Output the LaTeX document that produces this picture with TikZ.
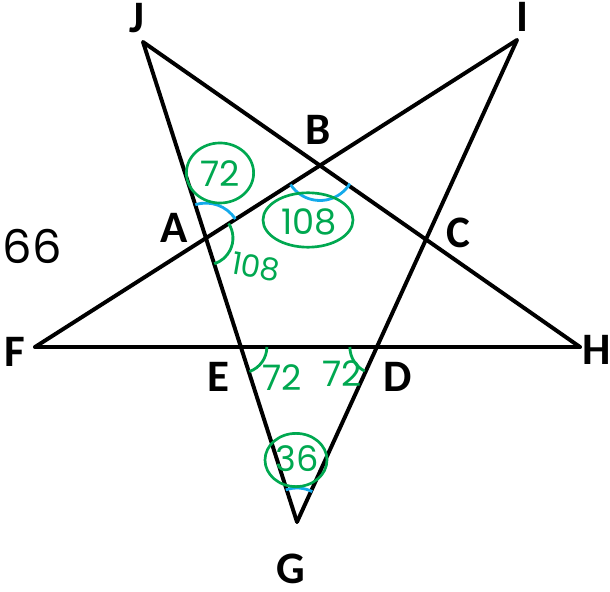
\documentclass[tikz,border=0pt]{standalone}
\usepackage{fontspec}
\setmainfont{Carlito}
\newfontfamily\handfont{Poppins}
\usetikzlibrary{shapes.geometric}
\definecolor{marca}{RGB}{0,168,80}
\definecolor{arco}{RGB}{20,170,235}
\begin{document}
\begin{tikzpicture}[x=0.025cm, y=0.025cm,
  reta/.style={line width=2.8pt, line cap=round},
  rotulo/.style={font=\fontsize{32}{32}\selectfont\bfseries, inner sep=0pt},
  verde/.style={text=marca, font=\handfont\fontsize{25}{25}\selectfont, inner sep=0pt},
  circ/.style={draw=marca, line width=1.9pt, ellipse, inner sep=0pt},
  angb/.style={draw=arco, line width=2pt},
  angv/.style={draw=marca, line width=2pt}]
\useasboundingbox (0,0) rectangle (610,591);
% pontas
\coordinate (J) at (143,549);
\coordinate (I) at (517,551);
\coordinate (F) at (35,244);
\coordinate (H) at (580,244);
\coordinate (G) at (297,69);
% cruzamentos
\coordinate (A) at (intersection of J--G and I--F);
\coordinate (B) at (intersection of J--H and I--F);
\coordinate (C) at (intersection of J--H and I--G);
\coordinate (D) at (intersection of F--H and I--G);
\coordinate (E) at (intersection of F--H and J--G);
% estrela
\draw[reta] (J) -- (G);
\draw[reta] (J) -- (H);
\draw[reta] (I) -- (F);
\draw[reta] (I) -- (G);
\draw[reta] (F) -- (H);
% letras
\node[rotulo] (tJ) at (137,573) {J};
\node[rotulo] (tI) at (522,574) {I};
\node[rotulo] (tB) at (318,461) {B};
\node[rotulo] (tA) at (174,363) {A};
\node[rotulo] (tC) at (458,358) {C};
\node[rotulo] (tF) at (15,239) {F};
\node[rotulo] (tH) at (597,241) {H};
\node[rotulo] (tE) at (218,214) {E};
\node[rotulo] (tD) at (398,214) {D};
\node[rotulo] (tG) at (291,22) {G};
\node[font=\handfont\fontsize{33}{33}\selectfont, inner sep=0pt] (n66) at (32,345) {66};
% arcos
\draw[angb] (A) ++(32.9:35) arc[start angle=32.9, end angle=107.7, radius=35];
\draw[angv] (A) ++(32.9:27) arc[start angle=32.9, end angle=-72.2, radius=27];
\draw[angb] (B) ++(212.9:35) arc[start angle=212.9, end angle=328.8, radius=35];
\draw[angv] (E) ++(0:26) arc[start angle=0, end angle=-70.8, radius=26];
\draw[angv] (D) ++(180:27) arc[start angle=180, end angle=243.3, radius=27];
\draw[angb] (G) ++(63.3:34) arc[start angle=63.3, end angle=109.2, radius=34];
% valores
\node[verde] (v72a) at (220,417) {72};
\node[circ, minimum width=1.68cm, minimum height=1.5cm] (c72a) at (220,418) {};
\node[verde] (v108a) at (309,369) {108};
\node[circ, minimum width=2.25cm, minimum height=1.36cm] (c108a) at (308,371) {};
\node[verde, font=\handfont\fontsize{22}{22}\selectfont, rotate=-10] (v108b) at (256,324) {108};
\node[verde] (v72e) at (282,213) {72};
\node[verde] (v72d) at (342,217) {72};
\node[verde] (v36) at (297,132) {36};
\node[circ, minimum width=1.55cm, minimum height=1.33cm] (c36) at (296,131) {};
\end{tikzpicture}
\end{document}
